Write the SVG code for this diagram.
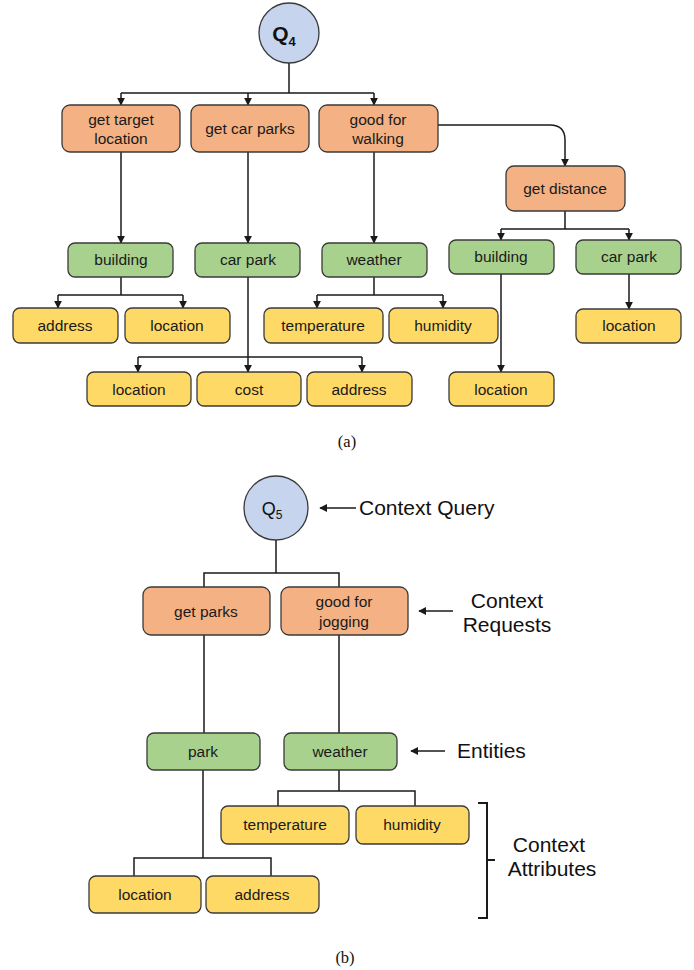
<svg xmlns="http://www.w3.org/2000/svg" width="694" height="970" viewBox="0 0 694 970">
<style>
.box{stroke:#3a3a3a;stroke-width:1.3}
.or{fill:#F4B183}.gr{fill:#A9D18E}.ye{fill:#FFD966}.bl{fill:#C7D4EE;stroke:#3a3a3a;stroke-width:1.3}
.t{font-family:"Liberation Sans",Arial,sans-serif;font-size:15.5px;fill:#1a1a1a;text-anchor:middle}
.side{font-family:"Liberation Sans",Arial,sans-serif;font-size:21px;fill:#111}
.cap{font-family:"Liberation Serif","Times New Roman",serif;font-size:16.5px;fill:#111;text-anchor:middle}
.ln{fill:none;stroke:#1a1a1a;stroke-width:1.5}
</style>
<defs>
<marker id="ah" viewBox="0 0 10 10" refX="9" refY="5" markerWidth="8" markerHeight="8" markerUnits="userSpaceOnUse" orient="auto">
<path d="M0,0 L10,5 L0,10 z" fill="#1a1a1a"/>
</marker>
</defs>

<g id="connectors">
<!-- (a) -->
<path class="ln" d="M289,63 V93 M121,93 H374"/>
<path class="ln" d="M121,93 V105" marker-end="url(#ah)"/>
<path class="ln" d="M248,93 V105" marker-end="url(#ah)"/>
<path class="ln" d="M374,93 V105" marker-end="url(#ah)"/>
<path class="ln" d="M438,125 H550 Q565,125 565,140 V166" marker-end="url(#ah)"/>
<path class="ln" d="M121,152 V243" marker-end="url(#ah)"/>
<path class="ln" d="M248,152 V243" marker-end="url(#ah)"/>
<path class="ln" d="M374,152 V243" marker-end="url(#ah)"/>
<path class="ln" d="M565,211 V229 M501,229 H629"/>
<path class="ln" d="M501,229 V240" marker-end="url(#ah)"/>
<path class="ln" d="M629,229 V240" marker-end="url(#ah)"/>
<path class="ln" d="M121,277 V295 M58,295 H183"/>
<path class="ln" d="M58,295 V308" marker-end="url(#ah)"/>
<path class="ln" d="M183,295 V308" marker-end="url(#ah)"/>
<path class="ln" d="M374,277 V295 M317,295 H443"/>
<path class="ln" d="M317,295 V308" marker-end="url(#ah)"/>
<path class="ln" d="M443,295 V308" marker-end="url(#ah)"/>
<path class="ln" d="M248,277 V372" marker-end="url(#ah)"/>
<path class="ln" d="M138,357 H362"/>
<path class="ln" d="M138,357 V372" marker-end="url(#ah)"/>
<path class="ln" d="M362,357 V372" marker-end="url(#ah)"/>
<path class="ln" d="M501,274 V372" marker-end="url(#ah)"/>
<path class="ln" d="M629,274 V309" marker-end="url(#ah)"/>
<!-- (b) -->
<path class="ln" d="M276,540 V573 M204,587 V573 H339 V587"/>
<path class="ln" d="M204,635 V733 M339,635 V733"/>
<path class="ln" d="M339,770 V791 M278,806 V791 H415 V806"/>
<path class="ln" d="M203,770 V858 M134,876 V858 H271 V876"/>
<path class="ln" d="M356,508 H320" marker-end="url(#ah)"/>
<path class="ln" d="M453,611 H419" marker-end="url(#ah)"/>
<path class="ln" d="M445,751 H411" marker-end="url(#ah)"/>
<path d="M478,803 H487 V918 H478 M487,860 H495" fill="none" stroke="#1a1a1a" stroke-width="2"/>
</g>

<!-- (a) nodes -->
<g id="q4"><circle class="bl" cx="289" cy="33" r="30"/><text x="284" y="41" font-family="Liberation Sans,Arial,sans-serif" font-size="21" font-weight="bold" text-anchor="middle" fill="#111">Q<tspan font-size="13" dy="5">4</tspan></text></g>
<g id="a_get_target"><rect class="box or" x="62" y="105" width="118" height="47" rx="8"/><text class="t" x="121" y="125">get target</text><text class="t" x="121" y="144">location</text></g>
<g id="a_get_car_parks"><rect class="box or" x="191" y="105" width="118" height="47" rx="8"/><text class="t" x="250" y="134">get car parks</text></g>
<g id="a_good_walking"><rect class="box or" x="319" y="105" width="119" height="47" rx="8"/><text class="t" x="378" y="125">good for</text><text class="t" x="378" y="144">walking</text></g>
<g id="a_get_distance"><rect class="box or" x="506" y="166" width="119" height="45" rx="8"/><text class="t" x="565" y="194">get distance</text></g>
<g id="a_building"><rect class="box gr" x="68" y="243" width="105" height="34" rx="7"/><text class="t" x="121" y="265">building</text></g>
<g id="a_car_park"><rect class="box gr" x="195" y="243" width="105" height="34" rx="7"/><text class="t" x="248" y="265">car park</text></g>
<g id="a_weather"><rect class="box gr" x="322" y="243" width="105" height="34" rx="7"/><text class="t" x="374" y="265">weather</text></g>
<g id="a_building2"><rect class="box gr" x="449" y="240" width="105" height="34" rx="7"/><text class="t" x="501" y="262">building</text></g>
<g id="a_car_park2"><rect class="box gr" x="576" y="240" width="105" height="34" rx="7"/><text class="t" x="629" y="262">car park</text></g>
<g id="a_address1"><rect class="box ye" x="13" y="308" width="105" height="35" rx="7"/><text class="t" x="65" y="331">address</text></g>
<g id="a_location1"><rect class="box ye" x="125" y="308" width="105" height="35" rx="7"/><text class="t" x="177" y="331">location</text></g>
<g id="a_temperature"><rect class="box ye" x="264" y="308" width="119" height="35" rx="7"/><text class="t" x="323" y="331">temperature</text></g>
<g id="a_humidity"><rect class="box ye" x="389" y="308" width="109" height="35" rx="7"/><text class="t" x="443" y="331">humidity</text></g>
<g id="a_location4"><rect class="box ye" x="576" y="309" width="105" height="34" rx="7"/><text class="t" x="629" y="331">location</text></g>
<g id="a_location2"><rect class="box ye" x="87" y="372" width="104" height="34" rx="7"/><text class="t" x="139" y="395">location</text></g>
<g id="a_cost"><rect class="box ye" x="197" y="372" width="104" height="34" rx="7"/><text class="t" x="249" y="395">cost</text></g>
<g id="a_address2"><rect class="box ye" x="307" y="372" width="105" height="34" rx="7"/><text class="t" x="359" y="395">address</text></g>
<g id="a_location3"><rect class="box ye" x="449" y="372" width="105" height="34" rx="7"/><text class="t" x="501" y="395">location</text></g>
<text class="cap" x="347" y="447">(a)</text>

<!-- (b) nodes -->
<g id="q5"><circle class="bl" cx="276" cy="508" r="32"/><text x="272" y="515" font-family="Liberation Sans,Arial,sans-serif" font-size="18" text-anchor="middle" fill="#111">Q<tspan font-size="12" dy="4">5</tspan></text></g>
<g id="b_get_parks"><rect class="box or" x="143" y="587" width="127" height="48" rx="8"/><text class="t" x="206" y="617">get parks</text></g>
<g id="b_good_jogging"><rect class="box or" x="281" y="587" width="127" height="48" rx="8"/><text class="t" x="344" y="607">good for</text><text class="t" x="344" y="627">jogging</text></g>
<g id="b_park"><rect class="box gr" x="147" y="733" width="113" height="37" rx="7"/><text class="t" x="203" y="757">park</text></g>
<g id="b_weather"><rect class="box gr" x="284" y="733" width="113" height="37" rx="7"/><text class="t" x="340" y="757">weather</text></g>
<g id="b_temperature"><rect class="box ye" x="221" y="806" width="128" height="38" rx="7"/><text class="t" x="285" y="830">temperature</text></g>
<g id="b_humidity"><rect class="box ye" x="356" y="806" width="113" height="38" rx="7"/><text class="t" x="412" y="830">humidity</text></g>
<g id="b_location"><rect class="box ye" x="89" y="876" width="112" height="37" rx="7"/><text class="t" x="145" y="900">location</text></g>
<g id="b_address"><rect class="box ye" x="206" y="876" width="113" height="37" rx="7"/><text class="t" x="262" y="900">address</text></g>

<g id="labels">
<text class="side" x="359" y="515">Context Query</text>
<text class="side" x="507" y="608" text-anchor="middle">Context</text>
<text class="side" x="507" y="632" text-anchor="middle">Requests</text>
<text class="side" x="457" y="758">Entities</text>
<text class="side" x="549" y="852" text-anchor="middle">Context</text>
<text class="side" x="552" y="876" text-anchor="middle">Attributes</text>
</g>
<text class="cap" x="345" y="963">(b)</text>
</svg>
